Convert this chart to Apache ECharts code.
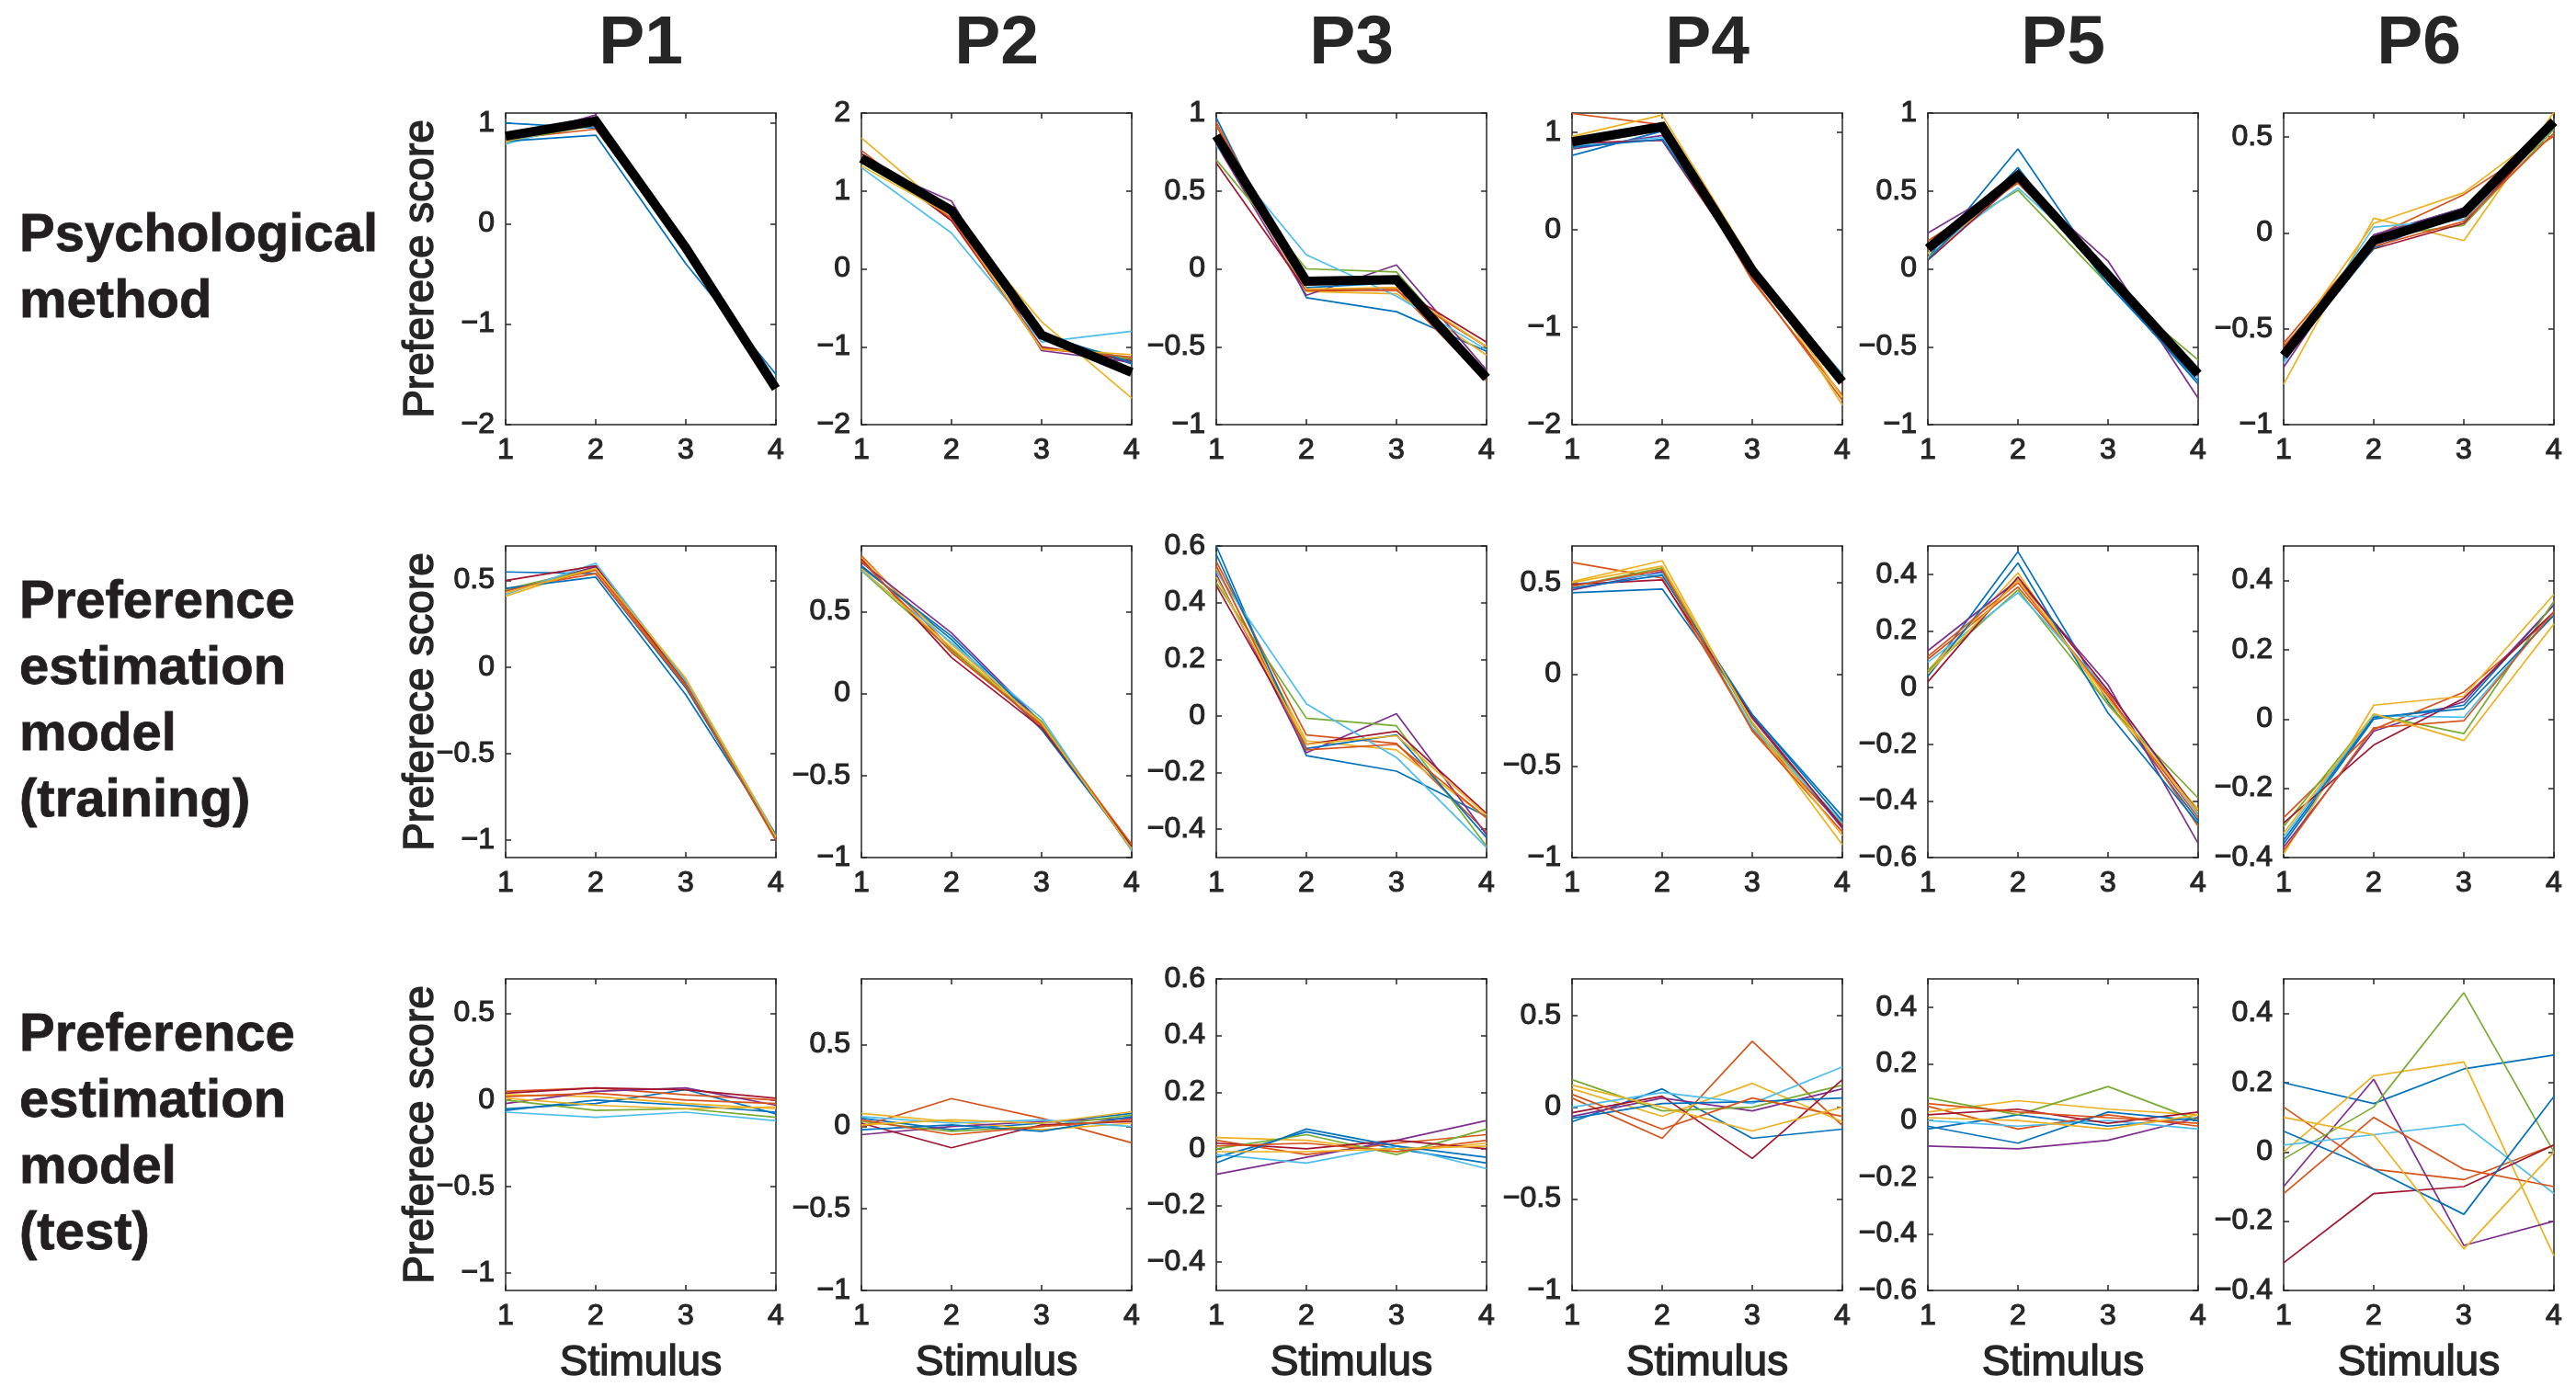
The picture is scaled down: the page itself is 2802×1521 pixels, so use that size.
<!DOCTYPE html>
<html><head><meta charset="utf-8">
<script src="https://cdn.jsdelivr.net/npm/echarts@6/dist/echarts.min.js"></script>
<style>html,body{margin:0;padding:0;background:#fff}#c{width:2802px;height:1521px}</style>
</head><body><div id="c"></div>
<script>
// ---------- data ----------
const stimuli = [1, 2, 3, 4];
const panelNames = ['P1', 'P2', 'P3', 'P4', 'P5', 'P6'];
const rowLabels = ['Psychological\nmethod', 'Preference\nestimation\nmodel\n(training)', 'Preference\nestimation\nmodel\n(test)'];
const yLabel = 'Preferece score';
const xLabel = 'Stimulus';

// y ranges per row / panel
const yMinRows = [[-2, -2, -1, -2, -1, -1], [-1.1, -1, -0.5, -1, -0.6, -0.4], [-1.1, -1, -0.5, -1, -0.6, -0.4]];
const yMaxRows = [[1.1, 2, 1, 1.2, 1, 0.625], [0.7, 0.9, 0.6, 0.7, 0.5, 0.5], [0.7, 0.9, 0.6, 0.7, 0.5, 0.5]];
const yTicksRow1 = [[-2, -1, 0, 1], [-2, -1, 0, 1, 2], [-1, -0.5, 0, 0.5, 1], [-2, -1, 0, 1], [-1, -0.5, 0, 0.5, 1], [-1, -0.5, 0, 0.5]];
const yTicksRow23 = [[-1, -0.5, 0, 0.5], [-1, -0.5, 0, 0.5], [-0.4, -0.2, 0, 0.2, 0.4, 0.6], [-1, -0.5, 0, 0.5], [-0.6, -0.4, -0.2, 0, 0.2, 0.4], [-0.4, -0.2, 0, 0.2, 0.4]];

// Row 1: psychological method (10 individual lines per panel)
const psyP1 = [[1.0, 0.95, -0.28, -1.6], [0.84, 0.94, -0.25, -1.58], [0.80, 1.02, -0.24, -1.60], [0.83, 1.08, -0.22, -1.62], [0.82, 0.98, -0.22, -1.63], [0.79, 1.05, -0.22, -1.56], [0.86, 1.03, -0.24, -1.63], [0.82, 0.88, -0.40, -1.50], [0.85, 1.04, -0.23, -1.65], [0.82, 1.01, -0.26, -1.62]];
const psyP2 = [[1.40, 0.70, -0.85, -1.22], [1.52, 0.62, -1.02, -1.15], [1.68, 0.70, -0.68, -1.66], [1.38, 0.87, -1.05, -1.20], [1.36, 0.68, -0.88, -1.17], [1.30, 0.46, -0.94, -0.80], [1.48, 0.62, -1.00, -1.18], [1.42, 0.72, -0.84, -1.20], [1.45, 0.65, -1.03, -1.13], [1.32, 0.68, -1.03, -1.10]];
const psyP3 = [[0.97, -0.185, -0.275, -0.53], [0.94, -0.13, -0.13, -0.72], [0.82, -0.145, -0.16, -0.555], [0.80, -0.17, 0.025, -0.65], [0.70, 0.0, -0.02, -0.68], [0.79, 0.09, -0.175, -0.52], [0.68, -0.14, -0.12, -0.47], [0.85, -0.12, -0.09, -0.68], [0.92, -0.14, -0.14, -0.50], [0.83, -0.13, -0.12, -0.50]];
const psyP4 = [[0.765, 1.015, -0.40, -1.50], [1.195, 1.08, -0.50, -1.75], [0.96, 1.18, -0.34, -1.80], [0.83, 0.97, -0.42, -1.55], [0.84, 1.10, -0.47, -1.52], [0.86, 0.95, -0.43, -1.48], [0.89, 0.92, -0.44, -1.58], [0.85, 0.93, -0.40, -1.52], [0.88, 1.08, -0.52, -1.70], [0.90, 1.05, -0.36, -1.72]];
const psyP5 = [[0.07, 0.77, -0.08, -0.74], [0.18, 0.55, -0.04, -0.64], [0.07, 0.58, -0.05, -0.64], [0.23, 0.57, 0.05, -0.83], [0.16, 0.505, -0.10, -0.585], [0.10, 0.52, 0.0, -0.70], [0.055, 0.57, -0.03, -0.68], [0.06, 0.65, -0.10, -0.72], [0.12, 0.56, -0.05, -0.66], [0.10, 0.60, -0.06, -0.67]];
const psyP6 = [[-0.62, -0.01, 0.13, 0.56], [-0.575, -0.02, 0.20, 0.505], [-0.79, 0.077, -0.04, 0.63], [-0.70, -0.01, 0.13, 0.57], [-0.60, -0.02, 0.04, 0.54], [-0.68, 0.03, 0.07, 0.55], [-0.60, -0.083, 0.05, 0.56], [-0.66, -0.08, 0.12, 0.57], [-0.59, -0.07, 0.06, 0.52], [-0.62, 0.05, 0.21, 0.56]];
// thick black line (average) per panel in row 1
const psyMean = [[0.87, 1.02, -0.24, -1.64], [1.42, 0.75, -0.85, -1.33], [0.855, -0.08, -0.07, -0.70], [0.905, 1.06, -0.415, -1.56], [0.13, 0.60, -0.04, -0.675], [-0.64, -0.04, 0.105, 0.58]];

// Row 2: preference estimation model (training)
const trainP1 = [[0.55, 0.54, -0.12, -0.98], [0.45, 0.54, -0.11, -0.98], [0.41, 0.58, -0.07, -0.97], [0.44, 0.58, -0.09, -0.99], [0.45, 0.57, -0.08, -0.99], [0.42, 0.60, -0.08, -0.97], [0.50, 0.585, -0.10, -1.00], [0.455, 0.52, -0.16, -0.97], [0.44, 0.56, -0.10, -1.00], [0.43, 0.57, -0.065, -0.98]];
const trainP2 = [[0.78, 0.33, -0.22, -0.94], [0.84, 0.27, -0.20, -0.93], [0.83, 0.30, -0.17, -0.93], [0.80, 0.37, -0.18, -0.93], [0.75, 0.26, -0.17, -0.94], [0.75, 0.31, -0.15, -0.96], [0.82, 0.22, -0.21, -0.93], [0.77, 0.35, -0.19, -0.95], [0.81, 0.25, -0.19, -0.92], [0.76, 0.28, -0.18, -0.95]];
const trainP3 = [[0.60, -0.14, -0.195, -0.355], [0.545, -0.067, -0.097, -0.41], [0.52, -0.088, -0.12, -0.36], [0.50, -0.13, 0.008, -0.42], [0.47, -0.008, -0.035, -0.46], [0.51, 0.043, -0.147, -0.465], [0.46, -0.10, -0.054, -0.345], [0.57, -0.115, -0.067, -0.43], [0.53, -0.12, -0.10, -0.36], [0.49, -0.10, -0.07, -0.35]];
const trainP4 = [[0.445, 0.465, -0.22, -0.775], [0.61, 0.525, -0.30, -0.83], [0.505, 0.62, -0.27, -0.93], [0.46, 0.56, -0.24, -0.84], [0.48, 0.58, -0.27, -0.82], [0.49, 0.55, -0.29, -0.81], [0.49, 0.515, -0.23, -0.83], [0.47, 0.54, -0.22, -0.80], [0.48, 0.57, -0.31, -0.86], [0.50, 0.59, -0.26, -0.88]];
const trainP5 = [[0.05, 0.48, -0.05, -0.47], [0.10, 0.355, -0.02, -0.49], [0.06, 0.405, -0.06, -0.43], [0.13, 0.38, 0.01, -0.55], [0.06, 0.345, -0.06, -0.39], [0.09, 0.335, -0.01, -0.45], [0.02, 0.39, -0.01, -0.44], [0.04, 0.44, -0.09, -0.48], [0.11, 0.37, -0.03, -0.46], [0.05, 0.38, -0.04, -0.44]];
const trainP6 = [[-0.36, 0.0, 0.04, 0.33], [-0.285, -0.03, 0.078, 0.30], [-0.39, 0.04, 0.066, 0.36], [-0.37, -0.035, 0.05, 0.33], [-0.31, 0.012, -0.042, 0.34], [-0.34, 0.01, 0.005, 0.31], [-0.30, -0.075, 0.06, 0.31], [-0.35, 0.005, 0.03, 0.30], [-0.38, -0.025, -0.005, 0.31], [-0.33, 0.015, -0.062, 0.275]];

// Row 3: preference estimation model (test)
const testP1 = [[-0.05, -0.02, 0.06, -0.08], [0.05, 0.07, 0.03, 0.0], [0.03, 0.02, -0.02, -0.05], [-0.02, 0.05, 0.07, -0.03], [0.0, -0.06, -0.05, -0.10], [-0.07, -0.10, -0.07, -0.12], [0.04, 0.07, 0.06, 0.01], [-0.06, 0.0, -0.03, -0.07], [0.02, 0.04, 0.0, -0.02], [0.01, -0.03, -0.05, -0.04]];
const testP2 = [[0.05, -0.02, 0.02, 0.08], [0.0, 0.17, 0.05, -0.10], [0.08, 0.03, -0.02, 0.02], [-0.05, 0.0, 0.03, 0.05], [0.03, -0.03, 0.0, 0.07], [0.06, 0.02, 0.04, 0.0], [0.02, -0.13, 0.01, 0.03], [-0.02, 0.01, -0.03, 0.06], [0.04, -0.05, 0.0, 0.04], [0.01, 0.04, 0.02, 0.09]];
const testP3 = [[-0.03, 0.06, 0.0, -0.05], [0.03, -0.02, 0.02, 0.05], [0.04, 0.03, -0.01, 0.02], [-0.09, -0.03, 0.03, 0.10], [0.0, 0.05, -0.02, 0.07], [-0.02, -0.05, 0.01, -0.07], [0.02, 0.0, 0.03, 0.0], [-0.05, 0.07, 0.01, -0.03], [0.01, 0.02, -0.01, 0.03], [-0.01, -0.01, 0.0, 0.01]];
const testP4 = [[-0.08, 0.10, -0.17, -0.12], [0.05, -0.17, 0.36, -0.10], [0.10, -0.05, 0.13, -0.08], [-0.05, 0.05, -0.02, 0.10], [0.15, -0.02, 0.0, 0.12], [0.0, 0.08, 0.02, 0.22], [-0.03, 0.06, -0.28, 0.15], [-0.06, 0.02, 0.03, 0.05], [0.07, -0.12, 0.05, -0.05], [0.12, 0.0, -0.13, 0.0]];
const testP5 = [[-0.03, 0.02, -0.02, 0.01], [0.05, -0.03, 0.02, -0.02], [0.03, 0.07, 0.04, 0.02], [-0.09, -0.10, -0.07, 0.01], [0.08, 0.02, 0.12, 0.0], [0.0, -0.02, 0.0, -0.03], [0.02, 0.04, -0.01, 0.03], [-0.02, -0.08, 0.03, 0.0], [0.06, 0.03, 0.01, -0.01], [0.01, 0.0, -0.03, 0.02]];
const testP6 = [[0.20, 0.14, 0.24, 0.28], [0.13, -0.05, -0.08, 0.02], [0.0, 0.22, 0.26, -0.30], [-0.10, 0.21, -0.27, -0.20], [-0.02, 0.13, 0.46, 0.0], [0.02, 0.05, 0.08, -0.12], [-0.32, -0.12, -0.10, 0.02], [0.06, -0.05, -0.18, 0.16], [-0.12, 0.10, -0.05, -0.10], [0.10, 0.05, -0.28, 0.0]];

// ---------- layout / style ----------
const COLORS = ['#0072BD', '#D95319', '#EDB120', '#7E2F8E', '#77AC30', '#4DBEEE', '#A2142F'];
const AX = '#262626';
const FONT = 'Arial, "Liberation Sans", Helvetica, sans-serif';
const gridLefts = [550, 937, 1323, 1710, 2097, 2484];
const gridTops = [123, 594, 1065];
const gridW = 294, gridH = 339;

const rowsData = [
  [psyP1, psyP2, psyP3, psyP4, psyP5, psyP6],
  [trainP1, trainP2, trainP3, trainP4, trainP5, trainP6],
  [testP1, testP2, testP3, testP4, testP5, testP6]
];

const fmt = v => (v < 0 ? '\u2212' : '') + String(Math.abs(v));
const labelStyle = { color: AX, fontSize: 32, fontFamily: FONT, textBorderColor: AX, textBorderWidth: 1.1 };

const grids = [], xAxes = [], yAxes = [], series = [], graphics = [];
for (let r = 0; r < 3; r++) {
  for (let c = 0; c < 6; c++) {
    const g = r * 6 + c;
    grids.push({ left: gridLefts[c], top: gridTops[r], width: gridW, height: gridH, show: false, containLabel: false });
    const ticks = r === 0 ? yTicksRow1[c] : yTicksRow23[c];
    const axLine = { show: true, onZero: false, lineStyle: { color: AX, width: 1.5 } };
    const axTick = { show: true, inside: true, length: 6, lineStyle: { color: AX, width: 1.5 } };
    xAxes.push({ gridIndex: g, type: 'value', min: 1, max: 4, interval: 1, position: 'bottom',
      axisLine: axLine, axisTick: axTick,
      axisLabel: Object.assign({ show: true, margin: 12 }, labelStyle),
      splitLine: { show: false } });
    xAxes.push({ gridIndex: g, type: 'value', min: 1, max: 4, interval: 1, position: 'top',
      axisLine: axLine, axisTick: axTick, axisLabel: { show: false }, splitLine: { show: false } });
    yAxes.push({ gridIndex: g, type: 'value', min: yMinRows[r][c], max: yMaxRows[r][c], position: 'left',
      axisLine: axLine,
      axisTick: Object.assign({ customValues: ticks }, axTick),
      axisLabel: Object.assign({ show: true, customValues: ticks, formatter: fmt, margin: 12 }, labelStyle),
      splitLine: { show: false } });
    yAxes.push({ gridIndex: g, type: 'value', min: yMinRows[r][c], max: yMaxRows[r][c], position: 'right',
      axisLine: axLine,
      axisTick: Object.assign({ customValues: ticks }, axTick),
      axisLabel: { show: false }, splitLine: { show: false } });

    rowsData[r][c].forEach((vals, i) => {
      series.push({ type: 'line', xAxisIndex: 2 * g, yAxisIndex: 2 * g,
        data: vals.map((v, k) => [stimuli[k], v]), showSymbol: false, symbol: 'none',
        lineStyle: { color: COLORS[i % COLORS.length], width: 1.7 }, silent: true, z: 2 });
    });
    if (r === 0) {
      series.push({ type: 'line', xAxisIndex: 2 * g, yAxisIndex: 2 * g,
        data: psyMean[c].map((v, k) => [stimuli[k], v]), showSymbol: false, symbol: 'none',
        lineStyle: { color: '#000000', width: 10, join: 'miter' }, silent: true, z: 3 });
    }
  }
}

// column titles and x labels
panelNames.forEach((p, c) => {
  graphics.push({ type: 'text', x: gridLefts[c] + gridW / 2, y: 48,
    style: { text: p, fontSize: 75, fontWeight: 'bold', fontFamily: FONT, fill: AX, align: 'center', verticalAlign: 'middle' } });
  graphics.push({ type: 'text', x: gridLefts[c] + gridW / 2, y: 1483,
    style: { text: xLabel, fontSize: 46, fontFamily: FONT, fill: AX, stroke: AX, lineWidth: 1.4, align: 'center', verticalAlign: 'middle' } });
});
// row labels and y labels
rowLabels.forEach((t, r) => {
  const cy = gridTops[r] + gridH / 2;
  graphics.push({ type: 'text', x: 21, y: cy,
    style: { text: t, fontSize: 58, fontWeight: 'bold', fontFamily: FONT, fill: '#231F20', stroke: '#231F20', lineWidth: 0.8, align: 'left', verticalAlign: 'middle', lineHeight: 72 } });
  graphics.push({ type: 'text', x: 458, y: cy, rotation: Math.PI / 2,
    style: { text: yLabel, fontSize: 46, fontFamily: FONT, fill: AX, stroke: AX, lineWidth: 1.4, align: 'center', verticalAlign: 'middle' } });
});

const chart = echarts.init(document.getElementById('c'), null, { renderer: 'canvas' });
chart.setOption({
  animation: false,
  backgroundColor: '#ffffff',
  grid: grids, xAxis: xAxes, yAxis: yAxes, series: series, graphic: graphics
});
</script></body></html>
